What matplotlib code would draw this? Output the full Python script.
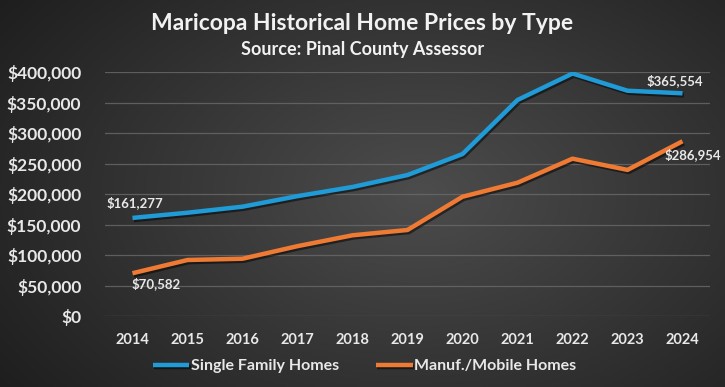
import numpy as np
import matplotlib
matplotlib.use("Agg")
import matplotlib.pyplot as plt
import matplotlib.patheffects as pe
from matplotlib.ticker import FuncFormatter

## data
years = [2014, 2015, 2016, 2017, 2018, 2019, 2020, 2021, 2022, 2023, 2024]
single_family = [161277, 169800, 179700, 197000, 212000, 231600, 266000, 354600, 398000, 369800, 365554]
manuf_mobile = [70582, 92300, 94400, 115000, 132800, 141500, 196000, 219000, 258400, 240000, 286954]
y_ticks = [0, 50000, 100000, 150000, 200000, 250000, 300000, 350000, 400000]

BLUE = '#1f9bd7'
ORANGE = '#ee7a34'
TXT = '#e8e8e8'

plt.rcParams['font.family'] = ['Lato', 'DejaVu Sans']

fig = plt.figure(figsize=(7.25, 3.87), dpi=100)

## background gradient
bg = fig.add_axes([0, 0, 1, 1], zorder=-10)
gx, gy = np.meshgrid(np.linspace(0, 1, 300), np.linspace(0, 1, 160))
r = np.sqrt(((gx - 0.58) / 0.75) ** 2 + ((gy - 0.5) / 0.9) ** 2)
shade = np.clip(0.30 - 0.19 * r, 0.12, 0.30)
bg.imshow(np.dstack([shade] * 3), extent=[0, 1, 0, 1], aspect='auto', origin='lower')
bg.axis('off')

ax = fig.add_axes([105 / 725, 1 - 316.3 / 387, 605 / 725, 244 / 387])
ax.patch.set_alpha(0)
x = np.arange(len(years))

shadow = [pe.SimpleLineShadow(offset=(1, -1.5), alpha=0.5, shadow_color='black'), pe.Normal()]
ax.plot(x, single_family, color=BLUE, lw=3.2, solid_capstyle='butt', path_effects=shadow,
        label='Single Family Homes', zorder=3)
ax.plot(x, manuf_mobile, color=ORANGE, lw=3.2, solid_capstyle='butt', path_effects=shadow,
        label='Manuf./Mobile Homes', zorder=3)

ax.set_xlim(-0.5, len(years) - 0.5)
ax.set_ylim(0, 400000)
ax.set_yticks(y_ticks)
ax.yaxis.set_major_formatter(FuncFormatter(lambda v, p: '${:,.0f}'.format(v)))
ax.set_xticks(x)
ax.set_xticklabels([str(y) for y in years])
ax.grid(axis='y', color='#6a6a6a', lw=0.9, alpha=0.8)
ax.set_axisbelow(True)
for s in ax.spines.values():
    s.set_visible(False)
ax.tick_params(length=0, colors=TXT)
ax.tick_params(axis='y', labelsize=12.5, pad=17)
ax.tick_params(axis='x', labelsize=10.5, pad=12)
for lab in ax.get_yticklabels() + ax.get_xticklabels():
    lab.set_fontweight('bold')

## data labels (first and last points)
lbl = dict(textcoords='offset points', color=TXT, fontsize=9.5, fontweight='bold', va='center')
ax.annotate('${:,}'.format(single_family[0]), (x[0], single_family[0]), xytext=(-19, 11),
            ha='left', **lbl)
ax.annotate('${:,}'.format(manuf_mobile[0]), (x[0], manuf_mobile[0]), xytext=(-1, -7.5),
            ha='left', **lbl)
ax.annotate('${:,}'.format(single_family[-1]), (x[-1], single_family[-1]), xytext=(15, 9),
            ha='right', **lbl)
ax.annotate('${:,}'.format(manuf_mobile[-1]), (x[-1], manuf_mobile[-1]), xytext=(28, -9.5),
            ha='right', **lbl)

fig.text(0.5, 1 - 24 / 387, 'Maricopa Historical Home Prices by Type', ha='center', va='center',
         color='#f2f2f2', fontsize=16.5, fontweight='bold')
fig.text(0.5, 1 - 49 / 387, 'Source: Pinal County Assessor', ha='center', va='center',
         color='#f2f2f2', fontsize=13, fontweight='bold')

leg = ax.legend(loc='center', bbox_to_anchor=((364.5 - 105) / 605, (316.3 - 366) / 244), ncol=2,
                frameon=False, fontsize=11.5, handlelength=2.3, handletextpad=0.1,
                columnspacing=2.3)
for t in leg.get_texts():
    t.set_color(TXT)
    t.set_fontweight('bold')

fig.savefig('out.png', dpi=100)
